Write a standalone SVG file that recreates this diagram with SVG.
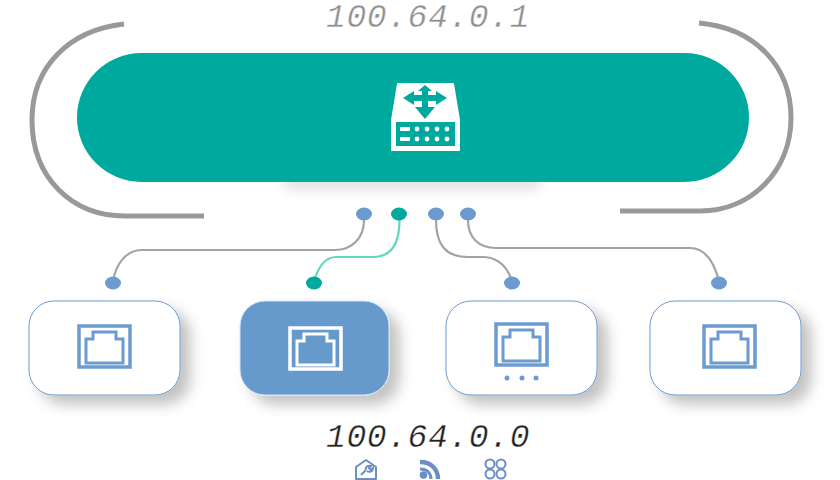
<svg xmlns="http://www.w3.org/2000/svg" width="840" height="480" viewBox="0 0 840 480">
<style>
.bracket{fill:none;stroke:#999;stroke-width:5}
.link{fill:none;stroke:#a3a3a3;stroke-width:2.200}
.linkOn{fill:none;stroke:#5fd8bc;stroke-width:2.200}
.port{fill:#6b9bcf}
.portOn{fill:#00a99d}
.card{fill:#fff;stroke:#6b9bcf;stroke-width:1}
.cardOn{fill:#6699cc;stroke:#d5e5f5;stroke-width:1}
.jack{fill:none;stroke:#6b9bcf}
.jackOn{fill:none;stroke:#fff}
.ip{font-family:"Liberation Mono",monospace;font-style:italic;font-size:33px;letter-spacing:0.6px;stroke:#fff;stroke-width:0.35px}
.mini{fill:none;stroke:#6b8fc4;stroke-width:2}
</style>
<defs>
<filter id="sh" x="-20%" y="-20%" width="150%" height="150%"><feDropShadow dx="10" dy="9" stdDeviation="7" flood-color="#000" flood-opacity="0.24"/></filter>
<filter id="bl" x="-20%" y="-200%" width="140%" height="500%"><feGaussianBlur stdDeviation="7"/></filter>
<g id="rj"><rect x="0" y="0" width="51" height="41" stroke-width="3.500"/><path d="M7 37V13H14V6H37V13H44V37Z" stroke-width="3"/></g>
</defs>
<g id="connectors">
<path class="link" d="M364 220C364 238 352 250 335 250H142C126 250 116 264 113 281"/>
<path class="linkOn" d="M399.500 220C399.500 243 392 257 373 257H336C324 257 318 268 314 281"/>
<path class="link" d="M436 220C436 244 445 257 468 257H482C498 257 507 266 512 281"/>
<path class="link" d="M468 220C468 238 479 248 496 248H690C705 248 714 262 719 281"/>
</g>
<g id="brackets">
<path class="bracket" d="M124 24C70 30 32 66 32 120C32 178 72 216 125 216H204"/>
<path class="bracket" d="M699 23C755 28 791 66 791 118C791 170 752 211 700 211H620"/>
</g>
<g id="router">
<rect x="285" y="176" width="255" height="12" fill="#000" opacity="0.16" filter="url(#bl)"/>
<rect x="77" y="53" width="672" height="129" rx="64.500" fill="#00a99d"/>
<path fill="#fff" stroke="#fff" stroke-width="2" stroke-linejoin="round" d="M398 84H453L459 120V150H392V120Z"/>
<path fill="#00a99d" d="M425 85L432 91H428V95H436V91L447 98L436 105V101H428V107H435L425 119L415 107H422V101H414V105L403 98L414 91V95H422V91H418Z"/>
<rect x="396" y="122" width="59" height="24" fill="#00a99d"/>
<g fill="#fff"><rect x="400" y="127" width="10" height="4" rx="1"/><rect x="400" y="137" width="10" height="4" rx="1"/>
<circle cx="417" cy="129" r="2.400"/><circle cx="427" cy="129" r="2.400"/><circle cx="437" cy="129" r="2.400"/><circle cx="447" cy="129" r="2.400"/>
<circle cx="417" cy="139" r="2.400"/><circle cx="427" cy="139" r="2.400"/><circle cx="437" cy="139" r="2.400"/><circle cx="447" cy="139" r="2.400"/></g>
</g>
<text class="ip" x="326" y="26.500" fill="#909090">100.64.0.1</text>
<g id="ports">
<ellipse class="port" cx="364" cy="214" rx="8" ry="6.500"/>
<ellipse class="portOn" cx="399" cy="214" rx="8" ry="6.500"/>
<ellipse class="port" cx="436" cy="214" rx="8" ry="6.500"/>
<ellipse class="port" cx="468" cy="214" rx="8" ry="6.500"/>
<ellipse class="port" cx="113" cy="283" rx="8" ry="6.500"/>
<ellipse class="portOn" cx="314" cy="283" rx="8" ry="6.500"/>
<ellipse class="port" cx="512" cy="283" rx="8" ry="6.500"/>
<ellipse class="port" cx="719" cy="283" rx="8" ry="6.500"/>
</g>
<g id="node1"><rect class="card" x="29" y="301" width="151" height="94" rx="25" filter="url(#sh)"/><use href="#rj" class="jack" x="79" y="326"/></g>
<g id="node2"><rect class="cardOn" x="240" y="301" width="149" height="94" rx="25" filter="url(#sh)"/><use href="#rj" class="jackOn" x="290" y="328"/></g>
<g id="node3"><rect class="card" x="446" y="301" width="151" height="94" rx="25" filter="url(#sh)"/><use href="#rj" class="jack" x="496" y="324"/>
<circle class="port" cx="507" cy="378" r="2.500"/><circle class="port" cx="522" cy="378" r="2.500"/><circle class="port" cx="536" cy="378" r="2.500"/></g>
<g id="node4"><rect class="card" x="650" y="301" width="151" height="94" rx="25" filter="url(#sh)"/><use href="#rj" class="jack" x="704" y="326"/></g>
<text class="ip" x="326" y="446.500" fill="#222">100.64.0.0</text>
<g id="icon-home"><path class="mini" stroke-linejoin="round" d="M356 467L366 460L376 467V479H356Z"/><path class="mini" d="M361 475L366 470M366 470C365 467 368 465 371 466L369 468L371 470L373 468C373 471 370 473 367 471"/></g>
<g id="icon-rss" fill="none" stroke="#6b8fc4"><circle cx="423.500" cy="475" r="3.800" fill="#6b8fc4" stroke="none"/><path d="M420 462C431 462 438 469 438 479" stroke-width="4.500"/><path d="M420 469C427 469 431 473 431 479" stroke-width="3"/></g>
<g id="icon-cmd"><circle class="mini" cx="490" cy="464" r="4.500" stroke-width="1.500"/><circle class="mini" cx="501" cy="464" r="4.500" stroke-width="1.500"/><circle class="mini" cx="490" cy="474" r="4.500" stroke-width="1.500"/><circle class="mini" cx="501" cy="474" r="4.500" stroke-width="1.500"/></g>
</svg>
